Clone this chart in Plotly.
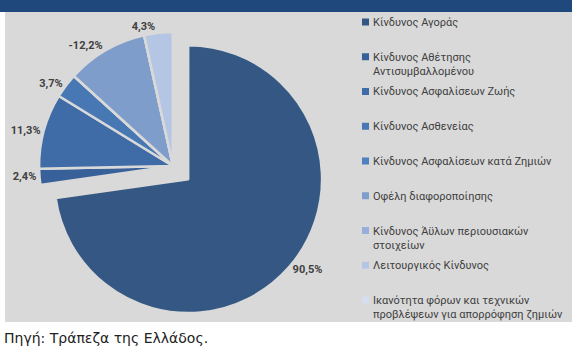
import plotly.graph_objects as go

# Categories (legend order) and their shares of the capital requirement (%)
categories = [
    "Κίνδυνος Αγοράς",
    "Κίνδυνος Αθέτησης<br>Αντισυμβαλλομένου",
    "Κίνδυνος Ασφαλίσεων Ζωής",
    "Κίνδυνος Ασθενείας",
    "Κίνδυνος Ασφαλίσεων κατά Ζημιών",
    "Οφέλη διαφοροποίησης",
    "Κίνδυνος Άϋλων περιουσιακών<br>στοιχείων",
    "Λειτουργικός Κίνδυνος",
    "Ικανότητα φόρων και τεχνικών<br>προβλέψεων για απορρόφηση ζημιών",
]
shares = [90.5, 2.4, 11.3, 3.7, 0.0, -12.2, 0.0, 4.3, 0.0]
colors = ["#345883", "#38619a", "#3f6ca6", "#4778b4", "#4f81c0",
          "#7f9dcb", "#97aed8", "#b5c6e4", "#d4deef"]
pulls = [0.15, 0, 0, 0, 0, 0, 0, 0, 0]
source_note = "Πηγή: Τράπεζα της Ελλάδος."

W, H = 572, 352
BG = "#d9d9d9"
FONT = "Roboto, Noto Sans, sans-serif"

labels_txt = [(f"{v:.1f}%".replace(".", ",") if v != 0 else "") for v in shares]

fig = go.Figure()

fig.add_trace(go.Pie(
    labels=[c.replace("<br>", " ") for c in categories],
    values=[abs(v) for v in shares],
    text=labels_txt,
    textinfo="text",
    textposition="outside",
    textfont=dict(family=FONT, size=11, color="#404040", weight="bold"),
    marker=dict(colors=colors, line=dict(color=BG, width=2.5)),
    pull=pulls,
    sort=False,
    direction="clockwise",
    rotation=0,
    automargin=False,
    domain=dict(x=[19 / W, 327 / W], y=[1 - 320 / H, 1 - 12 / H]),
    hoverinfo="label+text",
    showlegend=False,
))

# grey chart area and dark title strip
fig.add_shape(type="rect", xref="paper", yref="paper",
              x0=5 / W, x1=1, y0=1 - 322 / H, y1=1 - 12 / H,
              fillcolor=BG, line=dict(width=0), layer="below")
fig.add_shape(type="rect", xref="paper", yref="paper",
              x0=0, x1=1, y0=1 - 12 / H, y1=1,
              fillcolor="#1f497d", line=dict(width=0), layer="below")

# legend drawn by hand: small squares with evenly spaced entries
for i, (name, col) in enumerate(zip(categories, colors)):
    yc = 22 + i * 34.75
    fig.add_shape(type="rect", xref="paper", yref="paper",
                  x0=362 / W, x1=369 / W,
                  y0=1 - (yc + 3.5) / H, y1=1 - (yc - 3.5) / H,
                  fillcolor=col, line=dict(width=0))
    fig.add_annotation(
        text=name, xref="paper", yref="paper",
        x=371 / W, y=1 - (yc - 8) / H, xanchor="left", yanchor="top",
        align="left", showarrow=False,
        font=dict(family=FONT, size=11, color="#404040"),
    )

fig.add_annotation(
    text=source_note, xref="paper", yref="paper",
    x=2 / W, y=1 - 338 / H, xanchor="left", yanchor="middle",
    showarrow=False,
    font=dict(family="DejaVu Sans, sans-serif", size=14, color="#222222"),
)

fig.update_layout(
    width=W,
    height=H,
    margin=dict(l=0, r=0, t=0, b=0, pad=0, autoexpand=False),
    paper_bgcolor="white",
    showlegend=False,
)

# the page's default body margin would shift the whole chart by 8px
fig.write_html("out.html", config={"displayModeBar": False},
               post_script="document.body.style.margin='0';")
